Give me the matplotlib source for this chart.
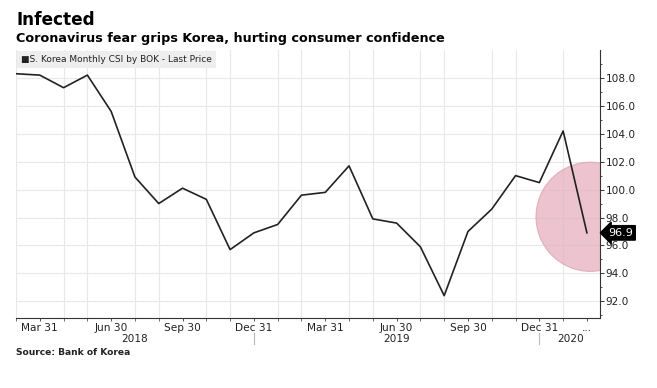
import matplotlib
matplotlib.use("Agg")
import matplotlib.pyplot as plt
from matplotlib.patches import Ellipse
import matplotlib.transforms as mtransforms

# Monthly CSI, Feb 2018 .. Feb 2020
months = ["2018-02", "2018-03", "2018-04", "2018-05", "2018-06", "2018-07", "2018-08",
          "2018-09", "2018-10", "2018-11", "2018-12", "2019-01", "2019-02", "2019-03",
          "2019-04", "2019-05", "2019-06", "2019-07", "2019-08", "2019-09", "2019-10",
          "2019-11", "2019-12", "2020-01", "2020-02"]
csi = [108.3, 108.2, 107.3, 108.2, 105.6, 100.9, 99.0, 100.1, 99.3, 95.7, 96.9, 97.5,
       99.6, 99.8, 101.7, 97.9, 97.6, 95.9, 92.4, 97.0, 98.6, 101.0, 100.5, 104.2, 96.9]

tick_idx = [1, 4, 7, 10, 13, 16, 19, 22, 24]
tick_labels = ["Mar 31", "Jun 30", "Sep 30", "Dec 31", "Mar 31", "Jun 30", "Sep 30", "Dec 31", "..."]
year_labels = ["2018", "2019", "2020"]
year_pos = [5, 16, 23.3]
year_sep = [10, 22]
y_ticks = [92, 94, 96, 98, 100, 102, 104, 106, 108]
last_value = csi[-1]

x = list(range(len(csi)))

fig = plt.figure(figsize=(6.57, 3.88), dpi=100)
ax = fig.add_axes([16/657, 1-318/388, (600-16)/657, (318-50)/388])

ax.set_xlim(0, 24.55)
ax.set_ylim(90.8, 110.0)

# highlight circle
circ = Ellipse((24.15, 98.05), width=2*2.29, height=2*3.91,
               facecolor="#e6afc0", edgecolor="#dca0b3", alpha=0.75, lw=0.8, zorder=2)
ax.add_patch(circ)

ax.plot(x, csi, color="#222222", lw=1.2, zorder=3)

# ticks and grid
ax.set_xticks(range(0, 25), minor=True)
ax.set_xticks(tick_idx)
ax.set_xticklabels(tick_labels)
ax.set_yticks(y_ticks)
ax.set_yticks(range(91, 110), minor=True)
ax.set_yticklabels([f"{v:.1f}" for v in y_ticks])
ax.grid(True, which="minor", axis="x", color="#e8e8e8", lw=0.8, zorder=0)
ax.grid(True, which="major", axis="y", color="#e8e8e8", lw=0.8, zorder=0)
ax.set_axisbelow(True)

ax.yaxis.tick_right()
for s in ["top", "left"]:
    ax.spines[s].set_visible(False)
for s in ["bottom", "right"]:
    ax.spines[s].set_color("#333333")
    ax.spines[s].set_linewidth(0.8)

ax.tick_params(axis="y", which="major", length=3, width=0.7, color="#333333",
               labelsize=7.6, labelcolor="#222222", pad=1)
ax.tick_params(axis="y", which="minor", length=1.5, width=0.6, color="#333333")
ax.tick_params(axis="x", which="major", length=2, width=0.7, color="#555555",
               labelsize=7.6, labelcolor="#222222", pad=1.5)
ax.tick_params(axis="x", which="minor", length=2, width=0.6, color="#555555")

# year labels and separators
trans = mtransforms.blended_transform_factory(ax.transData, ax.transAxes)
for lab, p in zip(year_labels, year_pos):
    ax.text(p, -0.060, lab, transform=trans, ha="center", va="top", fontsize=7.6, color="#222222")
for s in year_sep:
    ax.plot([s, s], [-0.055, -0.098], transform=trans, color="#bbbbbb", lw=0.8, clip_on=False)

# last value tag
ytrans = mtransforms.blended_transform_factory(ax.transAxes, ax.transData)
ax.text(1.014, last_value, f"{last_value:.1f}", transform=ytrans, ha="left", va="center",
        fontsize=8, color="white",
        bbox=dict(boxstyle="larrow,pad=0.2", facecolor="black", edgecolor="black"))

# legend box
ax.text(0.008, 0.982, "\u25A0S. Korea Monthly CSI by BOK - Last Price", transform=ax.transAxes,
        ha="left", va="top", fontsize=6.5, color="#222222",
        bbox=dict(boxstyle="square,pad=0.45", facecolor="#eeeeee", edgecolor="none"), zorder=5)

fig.text(16/657, 1-11/388, "Infected", ha="left", va="top", fontsize=12.2, fontweight="bold")
fig.text(16/657, 1-32/388, "Coronavirus fear grips Korea, hurting consumer confidence",
         ha="left", va="top", fontsize=9.2, fontweight="bold")
fig.text(16/657, 1-348/388, "Source: Bank of Korea", ha="left", va="top", fontsize=6.6,
         fontweight="bold", color="#222222")

fig.savefig("out.png", dpi=100, facecolor="white")
